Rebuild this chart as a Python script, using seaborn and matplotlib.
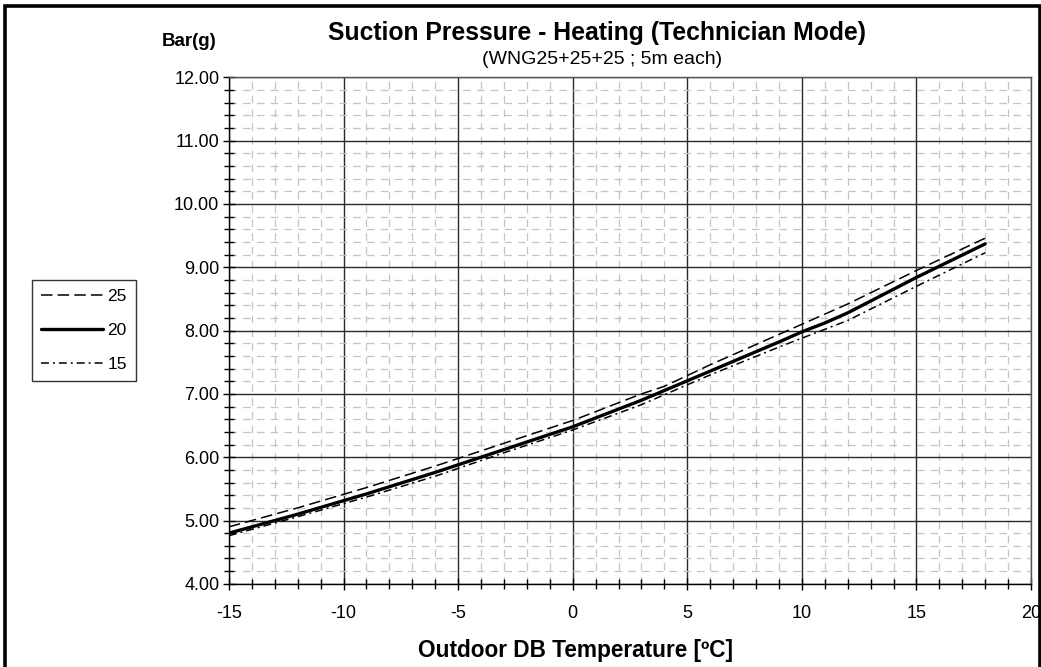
import matplotlib
matplotlib.use("Agg")
import matplotlib.pyplot as plt
import matplotlib.patches as mpatches
from matplotlib.ticker import MultipleLocator, FormatStrFormatter
import pandas as pd
import seaborn as sns

# Outdoor dry-bulb temperature (°C) at which suction pressure was taken
temp_25 = [-15, -12, -9, -6, -3, 0, 3, 4, 6, 9, 12, 15, 18]
temp_20 = [-15, -12, -9, -6, -3, 0, 3, 6, 9, 10, 11, 12, 15, 18]
temp_15 = [-15, -12, -9, -6, -3, 0, 3, 6, 9, 12, 15, 18]

# Suction pressure (bar gauge) for each indoor condition
pres_25 = [4.90, 5.20, 5.52, 5.86, 6.22, 6.58, 7.00, 7.12, 7.46, 7.94, 8.42, 8.95, 9.46]
pres_20 = [4.80, 5.10, 5.42, 5.76, 6.12, 6.48, 6.90, 7.36, 7.82, 7.98, 8.12, 8.28, 8.84, 9.37]
pres_15 = [4.76, 5.06, 5.37, 5.70, 6.07, 6.43, 6.83, 7.30, 7.74, 8.16, 8.70, 9.23]

series_labels = ["25", "20", "15"]

title = "Suction Pressure - Heating (Technician Mode)"
subtitle = "(WNG25+25+25 ; 5m each)"
x_label = "Outdoor DB Temperature [ºC]"
y_label = "Bar(g)"

sns.set_theme(style="white")
plt.rcParams["font.family"] = ["Liberation Sans", "DejaVu Sans"]
plt.rcParams["axes.unicode_minus"] = False
for key in ["text.color", "xtick.color", "ytick.color", "axes.labelcolor"]:
    plt.rcParams[key] = "black"

W, H = 1041, 667
fig = plt.figure(figsize=(W / 100, H / 100), dpi=100)
fig.patch.set_facecolor("white")

ax = fig.add_axes([229 / W, 1 - 583.8 / H, (1031 - 229) / W, (583.8 - 77.4) / H])
ax.set_facecolor("white")

frames = {
    "25": pd.DataFrame({"t": temp_25, "p": pres_25}),
    "20": pd.DataFrame({"t": temp_20, "p": pres_20}),
    "15": pd.DataFrame({"t": temp_15, "p": pres_15}),
}
styles = {
    "25": dict(linestyle=(0, (7.5, 3.4)), linewidth=1.1),
    "20": dict(linestyle="-", linewidth=2.4),
    "15": dict(linestyle=(0, (5.2, 2.6, 1.3, 2.6)), linewidth=1.1),
}
for name in series_labels:
    sns.lineplot(data=frames[name], x="t", y="p", ax=ax, color="black",
                 label=name, legend=False, zorder=5, **styles[name])

ax.set_xlim(-15, 20)
ax.set_ylim(4, 12)
ax.xaxis.set_major_locator(MultipleLocator(5))
ax.xaxis.set_minor_locator(MultipleLocator(1))
ax.yaxis.set_major_locator(MultipleLocator(1))
ax.yaxis.set_minor_locator(MultipleLocator(0.2))
ax.yaxis.set_major_formatter(FormatStrFormatter("%.2f"))

ax.grid(which="minor", color="#c4c4c4", linestyle=(0, (6, 5)), linewidth=0.9)
ax.grid(which="major", color="#2a2a2a", linestyle="-", linewidth=1.0)
ax.set_axisbelow(True)

ax.tick_params(which="major", direction="inout", length=9, width=1, color="black",
               labelsize=13)
ax.tick_params(which="minor", direction="inout", length=7, width=1, color="black")
ax.tick_params(axis="y", which="major", pad=2.5)
ax.tick_params(axis="x", which="major", pad=11)
ax.tick_params(left=True, bottom=True, which="both")

for side, sp in ax.spines.items():
    sp.set_visible(True)
    sp.set_color("black")
    sp.set_linewidth(1.0)
ax.spines["right"].set_color("#555555")
ax.spines["top"].set_color("#555555")

ax.set_xlabel("")
ax.set_ylabel("")

fig.text(597 / W, 1 - 33 / H, title, ha="center", va="center",
         fontsize=17.8, fontweight="bold")
fig.text(602 / W, 1 - 60 / H, subtitle, ha="center", va="center", fontsize=14)
fig.text(189 / W, 1 - 42 / H, y_label, ha="center", va="center",
         fontsize=13.5, fontweight="bold")
fig.text(576 / W, 1 - 651 / H, x_label, ha="center", va="center",
         fontsize=16.3, fontweight="bold")

handles = [ax.lines[i] for i in range(3)]
leg = fig.legend(handles, series_labels, loc="upper left",
                 bbox_to_anchor=(32 / W, 1 - 280 / H), bbox_transform=fig.transFigure,
                 borderaxespad=0, frameon=True,
                 fontsize=12.5, handlelength=3.6, handletextpad=0.25,
                 labelspacing=1.1, borderpad=0.5, fancybox=False)
leg.get_frame().set_edgecolor("black")
leg.get_frame().set_linewidth(1.0)

# outer chart frame
frame = mpatches.Rectangle((4.5 / W, -0.05), (1039.5 - 4.5) / W, 1.05 - 5.5 / H,
                           transform=fig.transFigure, fill=False,
                           edgecolor="black", linewidth=2.6, zorder=-1)
fig.patches.append(frame)

fig.savefig("out.png", dpi=100, facecolor="white")
